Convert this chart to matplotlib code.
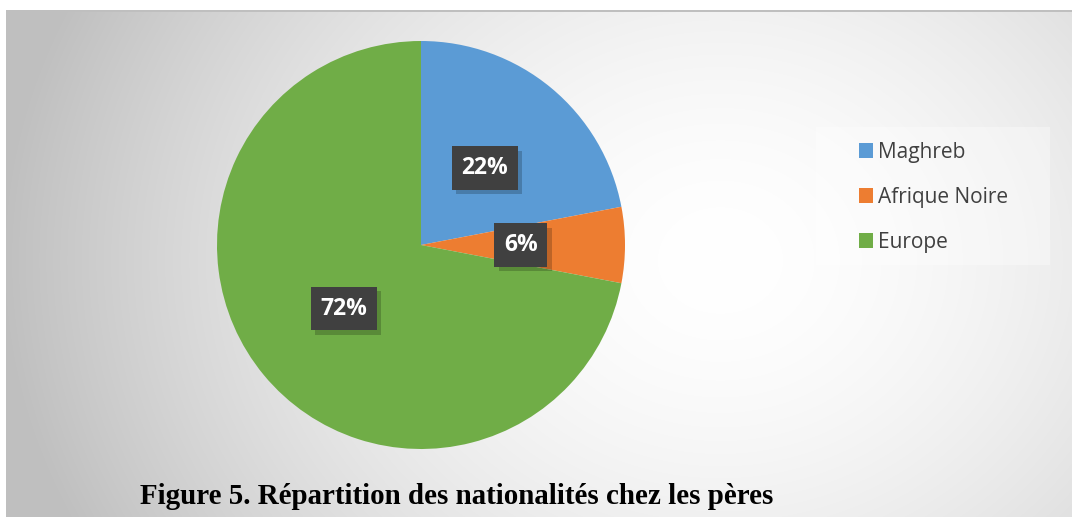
import numpy as np
import matplotlib.pyplot as plt
import matplotlib.patheffects as pe
from matplotlib.patches import Patch, Rectangle

# data
labels = ["Maghreb", "Afrique Noire", "Europe"]
values = [22, 6, 72]
colors = ["#5B9BD5", "#ED7D31", "#70AD47"]
title = "Figure 5. Répartition des nationalités chez les pères"

W, H = 1072, 517
fig = plt.figure(figsize=(W / 100, H / 100), dpi=100)

# background: radial grey gradient, white strip on top
bg = fig.add_axes([0, 0, 1, 1])
yy, xx = np.mgrid[0:H, 0:W]
r = np.sqrt((xx - 720) ** 2 + ((yy - 260) / 0.85) ** 2)
v = 1 - 0.25 * np.clip(r / 720, 0, 1) ** 1.7
img = np.dstack([v, v, v])
img[:10, :, :] = 1.0
img[10:12, 5:, :] = 0.75
img[:, :6, :] = 1.0
bg.imshow(img, extent=[0, W, H, 0], aspect="auto", interpolation="bilinear")
bg.set_xlim(0, W)
bg.set_ylim(H, 0)
bg.axis("off")

# legend panel
bg.add_patch(Rectangle((816, 127), 234, 138, facecolor="white", alpha=0.35,
                       edgecolor="none"))

# pie
cx, cy, rad = 421, 245, 204
ax = fig.add_axes([(cx - rad) / W, (H - cy - rad) / H, 2 * rad / W, 2 * rad / H])
wedges, texts, autotexts = ax.pie(
    values, colors=colors, startangle=90, counterclock=False, radius=1,
    autopct="%d%%", pctdistance=0.49,
    wedgeprops=dict(linewidth=0),
    textprops=dict(color="white", fontsize=16.5, fontweight="bold",
                   family="Open Sans"))
ax.set_xlim(-1, 1)
ax.set_ylim(-1, 1)
ax.set_aspect("equal")
ax.axis("off")
for t in autotexts:
    t.set_bbox(dict(boxstyle="square,pad=0.42", facecolor="#404040",
                    edgecolor="none"))
    t.get_bbox_patch().set_path_effects([
        pe.SimplePatchShadow(offset=(3, -3), shadow_rgbFace="black", alpha=0.2),
        pe.Normal()])

handles = [Patch(facecolor=c, edgecolor="none") for c in colors]
fig.legend(handles, labels, loc="upper left",
           bbox_to_anchor=(840 / W, 1 - 123 / H), frameon=False,
           prop=dict(family="Open Sans", size=15),
           labelcolor="#404040", labelspacing=1.15,
           handlelength=0.68, handleheight=0.68, handletextpad=0.25)

fig.text(140 / W, 1 - 496 / H, title, fontsize=20.9, fontweight="bold",
         family="Liberation Serif", va="center", ha="left", color="black")

fig.savefig("out.png", dpi=100)
